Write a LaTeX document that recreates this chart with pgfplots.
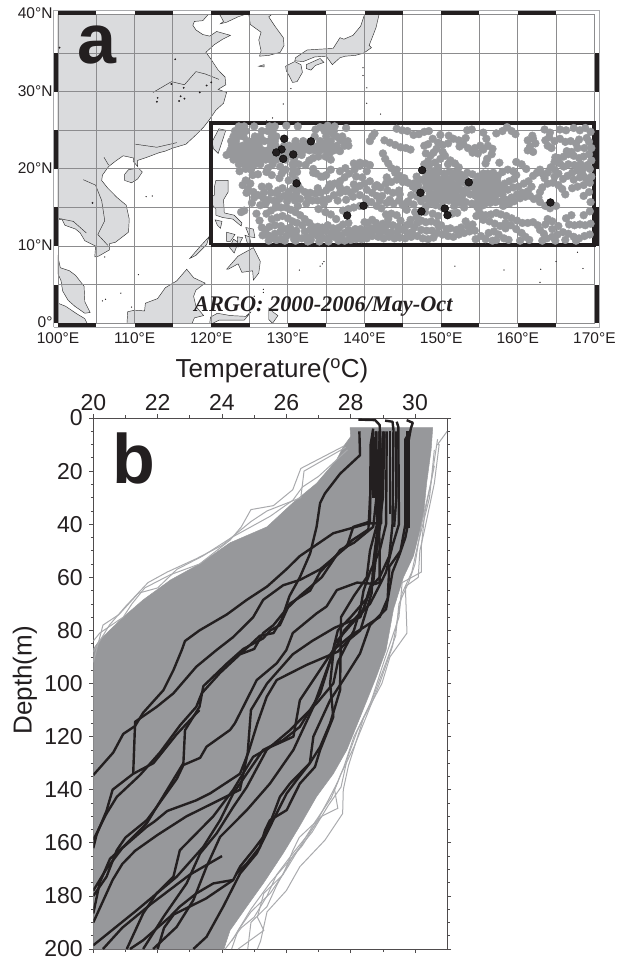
\documentclass[border=0pt]{standalone}
\usepackage{pgfplots}
\pgfplotsset{compat=1.18}
\usepackage{fontspec}
\setmainfont{Liberation Sans}
\newfontfamily\argofont{Liberation Serif}
\definecolor{land}{HTML}{DADBDD}
\definecolor{coast}{HTML}{303030}
\definecolor{gridc}{HTML}{8C8C8E}
\definecolor{dots}{HTML}{97989B}
\definecolor{ink}{HTML}{231F20}
\definecolor{thing}{HTML}{A9AAAD}
\pgfplotsset{
  landp/.style={fill=land,draw=coast,line width=0.45pt},
  prof/.style={ink,line width=2.4pt,line join=round},
  thinp/.style={thing,line width=1pt},
}
\begin{document}
\begin{tikzpicture}[x=1pt,y=1pt]
\path[use as bounding box] (0,0) rectangle (626,958);
\begin{axis}[
  at={(58pt,634.7pt)},anchor=south west,scale only axis,
  width=536.4pt,height=308.8pt,
  xmin=100,xmax=170,ymin=0,ymax=40,clip=false,
  axis line style={draw=none},
  xtick={100,110,120,130,140,150,160,170},
  xticklabels={100°E,110°E,120°E,130°E,140°E,150°E,160°E,170°E},
  ytick={0,10,20,30,40},
  yticklabels={0°,10°N,20°N,30°N,40°N},
  tick style={draw=none},
  tick label style={font=\fontsize{15.5}{16}\selectfont,text=ink},
  xticklabel style={yshift=-6pt},
  yticklabel style={xshift=-2pt,yshift=1pt},
  unbounded coords=jump,
]
% land
\addplot[landp] coordinates {(100,40)(119.6,40)(118.9,39.2)(117.8,39.1)(117.6,38.6)(118.0,38.0)(118.9,37.4)(119.8,37.2)(120.7,37.8)(122.5,37.3)(121.5,36.8)(120.4,36.1)(119.3,35.1)(119.9,34.3)(120.9,32.8)(121.8,31.9)(121.9,30.9)(120.9,30.3)(122,29.9)(121.6,28.5)(120.6,27.6)(119.7,26.3)(119,25.4)(118,24.4)(116.7,23.2)(115,22.7)(114,22.3)(113.2,22.1)(111.6,21.5)(110.4,21.1)(110.4,20.3)(109.8,21)(109.9,21.4)(108.5,21.7)(107.5,21)(106.6,20.3)(105.8,19.2)(105.7,18.5)(106.5,17.5)(107.7,16.3)(108.9,15.3)(109.3,13.5)(109.2,11.8)(107.5,10.5)(106.7,10.3)(106.7,9.5)(105.3,8.7)(104.8,8.6)(104.9,10)(103.5,10.7)(102.9,11.7)(102.3,12.2)(100.9,12.7)(100.5,13.5)(100,13.4)} --cycle;
\addplot[landp] coordinates {(100,8.6)(100.3,7.2)(101.5,6.8)(102.3,6.2)(103.4,4.8)(103.5,2.8)(104.2,1.4)(103.5,1.3)(102.2,2.2)(101.3,3)(100.6,4.2)(100.4,5.5)(100,6.4)} --cycle;
\addplot[landp] coordinates {(100,2.6)(101,2.2)(102.5,1.2)(103.5,0.6)(103.8,0)(100,0)} --cycle;
\addplot[landp] coordinates {(121.1,40)(121.6,39.1)(121.2,38.8)(122,39)(123.5,39.7)(124.4,40)} --cycle;
\addplot[landp] coordinates {(124.9,40)(125.1,38.7)(126.5,37.7)(126.2,36.7)(126.5,35.3)(126.3,34.6)(127.5,34.7)(129,35.1)(129.5,36)(129.4,37)(128.3,38.5)(127.5,39.7)(127.9,40)} --cycle;
\addplot[landp] coordinates {(108.7,19.3)(109.2,19.9)(110.5,20.1)(111,19.6)(110.4,18.7)(109.6,18.2)(108.7,18.5)} --cycle;
\addplot[landp] coordinates {(121,25.2)(121.9,25)(121.4,23.5)(120.9,22)(120.3,22.6)(120.1,23.5)} --cycle;
\addplot[landp] coordinates {(120.6,18.5)(122.2,18.5)(122.2,17)(121.6,16)(121.7,14.3)(123,14)(124,13)(123.9,12.6)(122.8,13.5)(121.5,13.7)(120.6,14)(120.6,14.8)(120,15.5)(119.9,16.3)(120.4,16.6)(120.4,17.6)} --cycle;
\addplot[landp] coordinates {(122,7)(123.5,8.7)(125.5,9.8)(126.4,8)(126.2,6.5)(125.5,5.6)(125.4,6.8)(124,6.6)(123.5,7.7)(122.2,7)} --cycle;
\addplot[landp] coordinates {(117.2,8.4)(118.5,9.9)(119.7,11.2)(119.4,10.2)(118,8.8)} --cycle;
\addplot[landp] coordinates {(124.5,12.4)(125.5,12.2)(125.7,11.1)(125,11.2)} --cycle;
\addplot[landp] coordinates {(124.4,11.4)(125,11.2)(125.2,10.2)(124.8,10.1)} --cycle;
\addplot[landp] coordinates {(122,11.8)(123.1,11.5)(122.5,10.6)(122,10.6)} --cycle;
\addplot[landp] coordinates {(122.9,10.9)(123.5,10.5)(123,9.1)(122.4,9.8)} --cycle;
\addplot[landp] coordinates {(123.4,11.2)(124.1,11.1)(123.5,9.9)} --cycle;
\addplot[landp] coordinates {(120.5,13.4)(121.4,13.2)(121.2,12.3)(120.8,12.7)} --cycle;
\addplot[landp] coordinates {(109,0)(109.1,1.5)(110,1.7)(111.3,1.6)(111.4,2.6)(113,3.2)(114,4.6)(115.5,5.5)(116.8,7)(117.7,5.9)(119.2,5.2)(118,4.3)(117.7,3.5)(118,2.2)(119,1)(117.8,0.7)(117.5,0)} --cycle;
\addplot[landp] coordinates {(119.8,0)(119.9,0.8)(120.8,1.3)(122.5,1)(124.5,0.9)(125.2,1.5)(124.3,0.4)(121,0.4)(120.2,0)} --cycle;
\addplot[landp] coordinates {(127.5,2)(128,1.5)(128.7,1)(128,0)(127.5,0.5)} --cycle;
\addplot[landp] coordinates {(129.7,33.3)(130.9,33.9)(131.7,33.5)(131.9,32.5)(131.2,31.3)(130.6,31.2)(130.2,32)(129.8,32.7)} --cycle;
\addplot[landp] coordinates {(132.4,33.5)(134.2,34.3)(134.7,33.8)(133.6,33.4)(133,32.8)(132.4,33)} --cycle;
\addplot[landp] coordinates {(130.9,34)(131,34.4)(132.5,35.4)(134,35.5)(135.9,35.6)(136.8,37)(137.3,36.8)(138.5,37.3)(139.5,38.5)(140,40)(141.9,40)(141.5,38.3)(141,37)(140.6,36)(140.9,35.7)(139.9,35)(138.8,34.7)(137.5,34.6)(136.8,34.4)(135.8,33.5)(135,34.6)(133.5,34.5)(132,33.9)} --cycle;
\addplot[landp] coordinates {(126.2,33.3)(126.9,33.5)(126.9,33.2)} --cycle;
% rivers and lakes
\addplot[coast,line width=0.45pt] coordinates {(121,31.6)(119.2,32.3)(118,32.6)(116.5,30.9)(114.8,31.3)(112.4,29.9)(nan,nan)(103.3,18.6)(104.9,17.9)(105.7,15.9)(106.1,13.3)(105.2,11.5)(106.5,10.1)(nan,nan)(110.1,23.2)(112.9,22.8)(115.5,23.4)(nan,nan)(106,21.5)(106.6,20.5)(nan,nan)(100,13.6)(102,13.2)(103.7,11.7)};
\addplot[only marks,mark=*,mark size=0.7pt,ink] coordinates {(114.8,31)(116,29.4)(116.5,29.1)(116.4,30.5)(115.8,28.8)(113,29.2)(112.9,28.7)(120,31.2)(119.4,30.8)(118.5,29.9)(115.3,34.2)(104.5,15.6)(100.2,35.7)};
\addplot[only marks,mark=*,mark size=0.35pt,ink] coordinates {(139.8,33.1)(139.8,32.1)(140.3,30.5)(140.3,28.5)(142.1,27.1)(141.3,24.8)(131.2,25.9)(128,26.6)(127.2,26.2)(129.4,28.4)(130.4,30.4)(123.9,24.4)(111.5,16.4)(112.3,16.5)(106.1,8.6)(108.2,3.9)(106.2,3.1)(105.8,2.9)(109.6,2.1)(110.5,6.3)(134.2,7.4)(134.5,7.7)(134.7,8)(151.8,7.4)(158.2,6.9)(162.9,5.3)(145.8,15.2)(145.7,15.1)(144.8,13.4)(168.5,7.1)(165,8)(163,7)(167.8,9.2)(126.8,4.4)(126.8,4.0)(125.6,3.5)(131.5,6.9)};
% grid
\addplot[gridc,line width=0.9pt] coordinates {(105,0)(105,40)(nan,nan)(110,0)(110,40)(nan,nan)(115,0)(115,40)(nan,nan)(120,0)(120,40)(nan,nan)(125,0)(125,40)(nan,nan)(130,0)(130,40)(nan,nan)(135,0)(135,40)(nan,nan)(140,0)(140,40)(nan,nan)(145,0)(145,40)(nan,nan)(150,0)(150,40)(nan,nan)(155,0)(155,40)(nan,nan)(160,0)(160,40)(nan,nan)(165,0)(165,40)(nan,nan)(100,5)(170,5)(nan,nan)(100,10)(170,10)(nan,nan)(100,15)(170,15)(nan,nan)(100,20)(170,20)(nan,nan)(100,25)(170,25)(nan,nan)(100,30)(170,30)(nan,nan)(100,35)(170,35)};
\addplot[gridc,line width=0.9pt] coordinates {(100,0)(170,0)(170,40)(100,40)(100,0)};
\addplot[thing,line width=0.9pt] coordinates {(99.47,-0.5)(170.6,-0.5)(170.6,40.5)(99.47,40.5)(99.47,-0.5)};
% black frame bars
\addplot[ink,line width=4pt] coordinates {(100,-0.22)(105,-0.22)(nan,nan)(110,-0.22)(115,-0.22)(nan,nan)(120,-0.22)(125,-0.22)(nan,nan)(130,-0.22)(135,-0.22)(nan,nan)(140,-0.22)(145,-0.22)(nan,nan)(150,-0.22)(155,-0.22)(nan,nan)(160,-0.22)(165,-0.22)(nan,nan)(100,40.22)(105,40.22)(nan,nan)(110,40.22)(115,40.22)(nan,nan)(120,40.22)(125,40.22)(nan,nan)(130,40.22)(135,40.22)(nan,nan)(140,40.22)(145,40.22)(nan,nan)(150,40.22)(155,40.22)(nan,nan)(160,40.22)(165,40.22)(nan,nan)(99.74,0)(99.74,5)(nan,nan)(99.74,10)(99.74,15)(nan,nan)(99.74,20)(99.74,25)(nan,nan)(99.74,30)(99.74,35)(nan,nan)(170.33,0)(170.33,5)(nan,nan)(170.33,10)(170.33,15)(nan,nan)(170.33,20)(170.33,25)(nan,nan)(170.33,30)(170.33,35)};
% ARGO floats, grey
\addplot[only marks,mark=*,mark size=3.9pt,dots,mark options={draw=none,fill=dots}] coordinates {
(123.6,25.5)(124.3,25.5)(125.6,25.5)(127.6,25.5)(128.3,25.5)(129.8,25.6)(131.3,25.5)(134.2,25.4)(135.2,25.6)(136.1,25.5)(137.6,25.3)
(123.1,24.9)(123.8,24.9)(124.5,24.9)(126.6,24.9)(127.4,24.9)(128,24.9)(134.8,24.9)(135.5,24.9)(136,24.9)
(122.9,24.2)(123.5,24.2)(124.2,24.2)(125.7,24.2)(126.4,24.2)(127.9,24.2)(128.5,24.2)(133.5,24.2)(135,24.2)(136.3,24.2)(137.1,24.2)
(122.6,23.6)(123.2,23.6)(124.7,23.6)(125.4,23.6)(126.1,23.6)(126.9,23.6)(127.6,23.6)(128.3,23.6)(131,23.6)(132,23.6)(134.2,23.6)(135.6,23.6)(137.2,23.6)(137.8,23.6)
(122.7,23)(123.4,23)(124.1,23)(124.8,23)(125.5,23)(126.2,23)(127.8,23)(128.4,23)(129.5,23)(130.2,23)(130.9,23)(131.7,23)(132.4,23)(133.2,23)(134,23)(134.8,23)(135.6,23)(136.4,23)(137.9,23)
(122.5,22.4)(123.2,22.4)(123.9,22.4)(124.6,22.4)(125.3,22.4)(126,22.4)(126.7,22.4)(127.4,22.4)(128.1,22.4)(129.9,22.4)(130.6,22.4)(131.3,22.4)(132,22.4)(132.8,22.4)(133.5,22.4)(134.2,22.4)(135,22.4)(136,22.4)(136.7,22.4)
(122,21.8)(122.7,21.8)(123.4,21.8)(124.1,21.8)(124.8,21.8)(125.5,21.8)(126.2,21.8)(126.9,21.8)(127.6,21.8)(128.3,21.8)(129,21.8)(130,21.8)(131.1,21.8)(131.8,21.8)
(122.9,21.2)(123.6,21.2)(124.3,21.2)(125,21.2)(125.7,21.2)(126.4,21.2)(127.1,21.2)(127.8,21.2)(128.5,21.2)(129.7,21.2)(130.8,21.2)
(123.6,20.6)(124.3,20.6)(125,20.6)(125.7,20.6)(126.4,20.6)(128,20.6)(130.6,20.6)(131.4,20.6)
(124.5,20)(125.2,19.9)(130.7,20)(131.2,19.6)(133.3,20)(133.7,19.4)(127.2,19.6)(127.9,19.2)(129.2,19.4)(128.9,18.8)(130.6,19.3)
(131,18.6)(131.3,17.9)(131.6,17.4)(132.2,17)(132.9,16.9)(133.6,16.8)(134.3,16.9)(135,17.2)(135.6,17.6)(136.1,18.1)(136.8,18.4)(137.4,18.9)(138,19.4)(138.7,19.9)(139.4,20.4)(140.1,20.7)(140.7,20.5)(137.5,20.1)(138.6,20.7)(136.8,19.7)(135.6,19.9)(135,19.2)(134.3,19)
(124.1,17.9)(124.8,17.4)(125.5,17)(126.1,16.6)(126.8,16.2)(127.5,16)(128.2,15.9)(128.9,16.1)(129.5,16.5)(130.1,17)(130.7,17.5)(124.6,16.9)(125.6,16.3)(127.1,15.5)(128.5,15.4)(129.9,15.8)(130.9,15.9)(131.3,15.2)(126.6,17.7)(127.5,17.7)(128.7,17.2)
(133.2,15.9)(133.9,15.9)(134.6,16)(135.3,16.1)(136,16.6)(136.8,16.9)(137.5,17.1)(138.2,16.9)(138.8,17.4)(139.4,17.8)(140,18.1)(140.7,18.4)(141.4,17.7)(142.1,17.6)(142.8,18.1)(143.5,18.3)(144.2,18.6)(145,18.3)(145.7,18.2)(146.3,17.7)(141,16.9)(141.6,16.5)(142.3,16.5)(143,17.2)(143.7,16.9)(144.5,17.2)(135.3,17.6)(136.5,15.9)(139.4,16.6)(140.2,16.1)(142.9,15.6)(143.8,15.5)(145,15.3)(144.5,15.9)
(137.2,14.6)(137.9,14.8)(138.6,15)(139.4,15.2)(140.2,15.5)(140.9,15.7)(141.6,15.2)(142.2,14.9)
(127.2,14.2)(127.8,14.6)(128.4,15)(129.1,15)(129.8,15)(130.4,14.7)(131,14.4)(131.6,14)(132.2,13.5)(132.8,13)(133.2,12.5)(127.9,13.5)(128.6,13.7)(129.3,13.9)(130,13.6)(130.6,13.2)(131.2,13)(131.9,12.7)(125.9,14.2)(126.3,13.3)(128.3,12.7)(129.1,12.6)(129.8,12.2)(131.1,12)
(127.4,11.4)(127.9,11)(128.5,10.8)(129.1,10.9)(129.8,11.3)(130.4,11.6)(131.1,11.3)(131.8,11)(132.5,11.2)(133.2,11.5)(133.9,11.3)(134.6,11)(135.3,11)(136,11.2)(136.7,11.4)(137.4,11.7)(138.1,11.9)(138.8,12.2)(139.5,12.2)(140.2,12.1)(140.9,12.3)(141.6,12.4)(142.3,12.5)(143,12.8)(143.7,12.7)(144.4,12.5)(145,12.1)(145.6,11.7)(146.1,11.2)(145.3,11)(144.6,11.1)(143.9,11)(143.2,11.2)(142.5,11)(141.8,11.2)(141,11.3)(140.3,11)(139.6,10.9)(138.9,10.9)(138.2,10.8)(137.4,10.7)(136.6,10.7)(135.9,12.3)(135.2,12.7)(137.2,12.8)(137.9,13)(134.5,12.4)(133.9,12.5)(129.6,10.7)(131,10.7)(132.6,10.6)(134.1,10.6)
(142.4,12.9)(143.1,13.5)(141,13.4)(140,13.1)(146.8,13.8)(147.4,13.3)(148,13.1)(148.7,13.2)(149.4,13)(150,12.7)(147.4,12.1)(148.1,12)(148.8,12)(149.5,11.7)(150.2,11.5)(150.9,11.3)(151.6,11.2)(152.3,11.5)(153,11.7)(153.7,11.9)(154.4,12)(146.9,11.3)(147.6,11)(148.3,10.9)(149,11.1)(152,12.1)(151.2,12.3)
(142.6,23.7)(143.3,23.4)(144,23.1)(144.7,22.8)(145.4,22.7)(146,22.5)(140.7,23.6)(141,24.2)(141.3,24.6)(144.2,25.2)(144.9,25)(145.6,24.9)(146.4,24.4)(147.1,24.5)(147.8,24.8)(148.4,24.9)(142.4,22)(142.7,21.3)(143.1,20.7)(143.5,20.1)(144,19.5)(144.6,19.1)(145.2,18.8)
(148,22)(148.6,21.7)(148.3,21)(147.8,20.6)(148.4,20.4)(149.2,20.8)(149.9,21.3)(150.5,21.7)(151.2,21.1)(151.8,20.7)(152.3,20.2)(148.9,23.9)(149.6,23.4)(150.2,23.1)(150.9,23.3)(151.6,23.9)(152.3,23.7)(152.9,23.2)(153.5,22.7)(154.1,22.1)(154.8,22)(155.5,22.5)(156.1,23)(156.7,22.6)(156.6,21.9)(156,21.3)(155.8,20.7)(150.2,22.2)(149.4,22.6)(153.4,25)(154,25.1)(155.5,24.7)(158,24.9)(158.6,25.4)(159.2,24.9)(159.7,24.5)(157.6,20.8)
(148,18.9)(148.7,19.1)(149.4,19)(150.1,18.6)(150.8,18.7)(151.5,18.9)(152.2,18.8)(152.9,18.3)(148,18.2)(148.7,18.3)(149.4,18.3)(150.1,17.9)(150.8,18)(151.5,18.1)(152.2,18)(148,17.5)(148.7,17.6)(149.4,17.6)(150.1,17.2)(150.8,17.3)(151.5,17.4)(152.2,17.3)(148.5,16.8)(149.2,16.8)(149.9,16.6)(150.6,16.6)(151.3,16.7)(152,16.6)(152.7,16.4)(148.9,16.1)(149.6,16)(150.3,15.9)(151,15.9)(151.7,15.9)(148.5,15.5)(149.3,15.3)(150,15.1)(151.7,15.2)(152.4,15.6)(153.2,15.7)(154,15.5)(154.7,15.1)(147.4,15.8)(147.1,18.6)(146.4,18.1)(146.7,17.4)(146.1,16.6)(145.7,15.8)(148,15.1)(147.9,14.4)
(153.4,19.5)(154.1,19.3)(154.8,19)(155.4,18.7)(156.1,18.7)(156.7,18.9)(157.4,19.1)(158,19.6)(158.7,19.9)(159.4,19.7)(159.8,19.2)(159.5,18.7)(158.9,18.4)(158.3,18.1)(157.6,17.9)(156.9,18)(156.2,17.8)(155.5,17.7)(154.8,17.8)(154.1,17.7)(153.4,17.5)(153.1,16.9)(153.8,16.7)(154.5,16.5)(155.2,16.4)(155.9,16.5)(156.6,16.6)(157.3,16.8)(158,16.7)(158.7,17.3)(159.4,17.6)(160.1,17.7)(160.8,18.1)(161.4,18.4)(161.8,17.7)(161.3,17.1)(160.6,16.9)(159.9,16.7)(159.2,16.3)(158.5,16)(157.8,15.8)(157.1,15.7)(156.4,15.6)(155.7,15.5)(162,19.1)(162.5,19.5)(161.1,20)(160.5,20.6)(159.8,20.9)(155.5,15.3)(154.9,14.8)
(162.9,15.7)(162.7,16.3)(162.9,17)(163.2,17.6)(163.9,18.1)(164.6,18.2)(165.3,17.9)(165.8,17.4)(166.2,16.7)(163.6,15.2)(164.2,14.9)(165,15.2)(163.5,18.8)(163.9,19.5)(164.3,20.2)(164.8,20.9)(165.3,21.4)(166,21.6)(166.6,21.9)(167.3,21.7)(168,21.4)(168.6,21.6)(169.3,21.9)(169.6,21.1)(169.1,20.5)(168.5,20)(167.8,19.8)(167.1,19.5)(166.5,19.1)(165.9,18.7)(165.3,19.4)(166,20.3)(166.6,20.6)(167.4,20.5)(168.1,18.9)(168.9,18.8)(169.6,19)(169.4,18.2)(168.6,17.9)(167.8,17.7)(167.1,17.5)(169.3,17)(168.6,16.5)(169.5,15.7)
(161.3,23.7)(162,23.9)(162.3,23.3)(161.6,22.9)(161.3,22.4)(162,22.2)(161.9,24.3)(163.5,25.1)(164.2,24.7)(165.5,25.1)(166.3,25)(167.3,25.3)(168.1,25)(168.8,25.3)(169.5,24.8)
(163.6,23.7)(164.1,24.1)(164.8,23.6)(165.5,23.9)(166.2,23.5)(166.9,23.6)(167.6,23.3)(167.8,22.7)(163.9,23)(164.4,22.7)(169.3,23.5)(169.6,22.7)
(155.1,14.2)(155.8,14)(156.5,14.1)(157.2,14.3)(157.8,14.1)(158.5,13.9)(159.2,13.6)(159.9,13.3)(160.6,13)(161.3,13)(162,13.1)(162.6,12.7)(162.9,12.1)(163.4,11.6)(163.8,11)(158.4,13)(159.1,12.7)(159.8,12.2)(160.5,11.7)(161,11.2)(161.5,10.8)(156.2,11.7)(156.9,11.9)(157.5,11.5)(158.2,11)(158.8,10.8)(155.2,11.3)(155.8,10.9)(154.5,10.9)
(164.5,11.2)(165.2,11.5)(165.9,11.8)(166.6,11.6)(167.3,11.2)(168,11)(168.7,11.3)(169.4,11.5)(164.9,10.7)(166.2,10.8)(167.6,10.7)(166.3,13.6)(167,14)(166.7,12.8)(167.4,12.7)(168.1,12.8)(168.8,12.7)(169.5,12.9)(169.4,14.5)(168.6,14)(165.3,12.6)(164.5,13.2)(163.9,13.5)
(153,15)(152.1,14.3)(151.4,14.2)(149.6,13.9)(148.9,14.2)(146.9,13)(146,13.4)(145.5,12.7)(146.6,14.4)(145.5,14.7)(154.1,12.8)(153.2,13.2)(134.9,14.4)(135.6,14.1)(136.3,13.5)(134,14.8)(123.9,14.4)(124.3,14.6)
(133.6,25.1)(134.6,25.3)(135.9,24.5)(136.8,23.8)(137.4,23)(135,23.4)(133.7,22.7)(135.5,22.1)(136.8,22.3)(133.3,19.5)(134.6,19)(135.5,18)(136.8,17.6)(137.7,17.3)(138.9,19)(139.4,20.8)(140.3,19.7)(138.5,16.4)(140.3,17.3)(141.6,17.9)(142.9,18.9)(144.2,19.9)(142,15.9)(143.3,16)(144.6,16.7)(145.5,15.6)(139.7,18.9)(138.6,18)(137.6,16)(133.9,17.5)(132.6,16.3)(134.7,15.5)
(126.6,12.4)(127.1,12.1)(127.6,12.5)(126.7,11.4)(127.5,10.7)(128.3,11.6)(129,11.8)(130.3,12.4)(130.8,10.9)(132.2,11.9)(132.9,12.1)(133.5,11.9)(134.3,11.8)(135,11.9)(135.7,11.7)(136.4,12)(137,11)(138.1,11.2)(138.9,11.5)(139.7,11.6)(140.5,11.8)(141.2,12)(142,11.7)(142.8,11.9)(143.5,11.8)(144.3,11.8)(146.5,12.4)(145.9,12.9)(146.2,11.8)(133,10.8)(135.3,10.6)(137.9,12.1)(136.7,12.4)(140.4,13)(141.5,13)(142.8,14.1)(143.5,14.2)(144.2,14)(144.7,13.3)
(128.6,16.8)(129.3,17.5)(130,16.3)(130.5,16.4)(127.8,16.9)(126.9,17)(125.1,18.1)(124.5,18.5)(125.3,15.6)(126.4,15.3)(130.1,18.5)(131.1,16.8)(131.6,16.1)(132.4,15.5)(126.1,19.3)(125.4,19.2)(123.7,19.7)(127.4,20.1)(129,20.3)(129.7,19.9)(132.3,20.5)(132.8,21.1)(133.3,21.4)(134,21.6)(134.9,21.6)(135.6,21.2)
(146.8,19)(147.6,18.6)(147,17.9)(147.4,17.2)(146.9,16.4)(146.4,15.4)(147.4,16.4)(148.3,19.5)(149,19.7)(149.7,19.6)(150.4,19.4)(151.1,19.6)(151.8,19.5)(152.5,19.3)(153,19)(153.2,18.6)(149,18.7)(150.5,18.3)(149.7,16.9)(148.1,16.1)(150.6,16.1)(152.6,17.3)(152.9,17)(152.5,16)(153.6,18.2)(154.4,18.3)(155.1,18.3)(155.8,18.2)(156.6,18.4)(157.3,18.5)(158,17.4)(157.3,17.4)(156.6,17.3)(155.9,17.2)(155.2,17)(154.5,17.1)(156.8,19.5)(156.1,19.4)(155.5,19.4)(154.8,15.8)(155.5,16)(156.2,16)(157,16.3)(158.1,15.2)(158.9,15.5)(159.5,15.8)(160.3,16.2)(161,16.4)(161.6,16.5)(162.1,16.1)
(164.9,21.5)(165.5,20.7)(166.4,22.3)(167,22.2)(164.8,19.9)(164.8,19)(167.3,18.6)(168.5,19.2)(169.4,20)(168.2,20.6)(168.7,22.7)(168,23.8)(169,24)(163.3,19.3)(162.9,19.9)
(149.9,24.4)(151,24.3)(152.4,22.9)(153.2,24)(154.4,22.7)(155.1,23)(155.9,23.9)(149,22.1)(147.8,23)(148.3,23.2)(150.9,20.6)(149.6,20.2)(157.2,24.6)
(154.6,13.9)(155.5,13.4)(156.3,13.2)(157,12.9)(157.7,12.6)(158.4,12.3)(153.5,12.6)(152.6,12.4)(150.7,12.2)(149.7,12.5)(163.6,12.8)(164.5,12.2)(163.2,10.7)(160.3,10.7)(157.2,10.8)(156.7,10.7)
};
% ARGO floats, selected
\addplot[only marks,mark=*,mark size=3.9pt,mark options={draw=none,fill=ink}] coordinates {(129.52,23.91)(133,23.57)(129.17,22.52)(128.48,22.13)(129.39,21.3)(130.7,21.87)(131.13,18.13)(137.74,13.96)(139.87,15.22)(147.52,19.83)(147.3,16.91)(147.43,14.48)(150.48,14.87)(150.83,14)(153.61,18.26)(164.26,15.65)};
% box
\addplot[ink,line width=4pt] coordinates {(120,10.1)(170,10.1)(170,26)(120,26)(120,10.1)};
\node[anchor=base,inner sep=0pt,text=ink] at (axis cs:105.1,33.7) {\fontsize{70}{70}\selectfont\bfseries a};
\node[anchor=base west,inner sep=0pt,text=ink] at (axis cs:117.75,1.5) {\argofont\fontsize{22.3}{22}\selectfont\bfseries\itshape ARGO: 2000-2006/May-Oct};
\end{axis}
\begin{axis}[
  at={(93.3pt,9pt)},anchor=south west,scale only axis,
  width=353.9pt,height=531pt,
  xmin=20,xmax=31,ymin=0,ymax=200,y dir=reverse,
  axis line style={draw=ink!80,line width=0.9pt},
  xtick={20,22,24,26,28,30},
  minor x tick num=1,
  ytick={0,20,...,200},
  minor y tick num=3,
  tick align=outside,
  major tick length=4pt,minor tick length=2.5pt,
  tick style={draw=ink!80,line width=0.7pt},
  xtick pos=both,ytick pos=both,
  xticklabel pos=top,yticklabel pos=left,
  tick label style={font=\fontsize{23}{24}\selectfont,text=ink},
  yticklabel style={xshift=-3pt,inner ysep=0pt},
  /pgf/number format/assume math mode=true,
  xlabel={Temperature(\textsuperscript{o}C)},
  ylabel={Depth(m)},
  label style={font=\fontsize{26}{27}\selectfont,text=ink},
  xlabel style={at={(axis description cs:0.505,1.0885)},anchor=center},
  ylabel style={at={(axis description cs:-0.193,0.506)},anchor=center},
  unbounded coords=jump,
]
% envelope of all profiles
\addplot[fill=dots,draw=dots,line width=0.5pt] coordinates {(27.98,3.6)(28.0,7)(27.77,10.8)(27.56,15.8)(26.94,24.6)(26.2,32)(25.4,41)(24.25,47)(23.3,55)(22.4,61)(21.55,68.5)(20.93,75)(20.2,83.6)(20,87)(20,200)(24.06,200)(24.25,193)(24.77,184)(25.3,175)(25.9,164)(26.4,154)(26.94,142.6)(27.46,134)(27.88,125)(28.3,112.5)(28.8,97.4)(29.1,87.4)(29.33,72)(29.64,60)(29.95,52)(30.26,37)(30.36,24.6)(30.5,12)(30.55,3.6)} --cycle;
% outlying grey profiles
\addplot[thinp] coordinates {(31,5)(30.7,10)(30.75,10)(30.6,24.6)(30.3,42)(30.15,50)(30.1,60)(29.7,63.5)(29.75,81)(29.22,90)(28.97,100)(28.4,113)(27.93,131)(27.77,140)(27.75,149)(27.2,159)(26.42,169)(26,178)(25.4,186)(25.2,197)(25.1,200)};
\addplot[thinp] coordinates {(30.7,8)(30.5,24)(30.2,40)(30,55)(29.8,62)(29.5,70)(29.4,82)(29.1,92)(28.7,105)(28.2,118)(27.9,128)(27.7,139)(27.3,146)(26.8,156)(26.2,165)(25.7,176)(25.4,184)(24.9,190)(24.8,200)};
\addplot[thinp] coordinates {(30.6,12)(30.45,30)(30.1,47)(29.9,58)(29.6,66)(29.45,76)(29.3,86)(28.9,100)(28.5,112)(28.1,124)(27.7,134)(27.4,143)(26.9,152)(26.5,160)(26,170)(25.5,179)(24.9,186)(24.5,193)(24.3,200)};
\addplot[thinp] coordinates {(30.6,18)(30.3,36)(30.2,48)(30.2,58)(29.6,62)(29.5,75)(29,93)(28.6,108)(28.1,120)(27.8,131)(27.5,140)(27.6,147)(27.1,150)(26.4,158)(26.2,163)(25.9,172)(25.3,179)(25.1,188)(25.3,193)(24.5,200)};
\addplot[thinp] coordinates {(24.1,200)(24.6,192)(25,188)(25.4,180)(25.7,172)(26.2,164)(26.6,158)(27.1,150)};
\addplot[thinp] coordinates {(24.3,197)(24.9,185)(25.5,175)(26,168)(26.5,161)(26.9,153)(27.3,144)(27.6,137)};
\addplot[thinp] coordinates {(27.8,10.5)(26.45,19)(26.2,27)(25.6,33)(24.9,34.5)(24.6,41)(24.25,46)(23.3,55)(22.4,59)(21.6,64)(21.2,70)(20.93,75)(20.2,81)(20,84)};
\addplot[thinp] coordinates {(27.85,11)(26.55,20)(26.45,30)(25.4,35)(24.9,39)(24.5,43)(24,48)(23.2,53)(22.3,58)(21.7,62)(21,71)(20.5,78)(20,88)};
\addplot[thinp] coordinates {(27.9,12)(27,22)(26.5,26)(26.2,31)(25.5,37)(24.3,45)(23.4,52)(22.6,57)(22,64)(21.4,66)(20.8,74)(20.3,78)(20,92)};
% selected profiles
\addplot[prof] coordinates {(28.27,5)(28.29,14)(27.67,21)(27.2,28.4)(27.05,32)(26.94,41)(26.74,51)(26.42,60)(26.1,67)(25.85,76)(25.6,81)(25.18,82)(24.56,89)};
\addplot[prof] coordinates {(28.24,0.6)(28.76,0.8)(28.9,2.6)(28.91,5.8)(28.95,20)(28.95,39.7)(28.55,39.7)(27.46,43.4)(26.42,52)(26,57)(25.4,63.5)(24.77,68.5)(24.15,74)(23.3,80)(22.85,84)(22.75,87.4)(22.49,95)(22.18,102.5)(21.55,111)(21.3,116)(20.93,119)(20.62,126)(20,134.5)};
\addplot[prof] coordinates {(28.7,4)(28.62,10)(28.6,39)(28.08,41)(27.88,48.5)(27.05,57)(26.42,61)(25.9,63)(25.28,68.5)(24.97,75)(24.35,82.5)(23.83,87.4)(23.2,93.7)(22.49,103.7)(21.97,108.8)(21.3,114.4)(21.24,134)(20.6,140)(20.41,148)(20.1,157)(20,162)};
\addplot[prof] coordinates {(21.24,134)(21.87,130)(22.6,119)(23.3,110)};
\addplot[prof] coordinates {(28.7,5)(28.65,20)(28.55,42)(28.05,46)(27.7,50)(27.05,58)(26.74,65)(26.1,70)(25.8,78)(25.5,80)(25.28,83)(24.66,87)(24.15,92.5)(23.42,101)(23.3,108.8)(22.85,117.6)(22.8,130)(21.97,146.5)(21.66,152.7)(20.93,161.5)(20.52,166)(20.2,175)(20,186.6)};
\addplot[prof] coordinates {(28.78,5)(28.8,30)(28.7,41)(28.1,47)(27.67,49.7)(27.1,60)(26.42,67)(26,72)(25.6,78)(25.28,81)(25,87)(24.56,89)(23.94,96)(23.37,103.7)(23.2,108.8)(22.7,115.7)(22.07,126)(21.45,134.5)(20.73,142.7)(20.41,149)(20.2,154)(20,159)};
\addplot[prof] coordinates {(28.9,5)(28.85,35)(28.9,48)(28.9,62)(28.76,62.5)(28.2,62)(27.57,64.8)(27.25,71)(26.94,73.6)(26.2,81)(26,87.4)(25.7,92.4)(25.08,98.7)(24.66,108.8)(24.4,115)(24.25,117.5)(23.52,123.8)(23.32,128)(22.8,130.7)(22.6,135.8)(21.97,146.5)(21.66,151.5)(21,158)(20.73,162.8)(20.41,172.8)(20,180)};
\addplot[prof] coordinates {(29,5)(28.95,30)(28.7,55)(28.65,66)(28.3,80)(27.9,84)(27.6,88)(26.63,93)(25.7,98.7)(25.39,105)(25.1,115)(24.82,126)(24.56,134)(23.63,141.4)(23.2,144)(22.3,148)(21.9,152)(21.66,154)(20.9,162)(20.4,170)(20,178)};
\addplot[prof] coordinates {(29.05,5)(29,30)(28.8,50)(28.7,62)(28.3,75)(27.5,79)(26.8,84)(26.2,89)(25.4,100)(24.9,110)(24.8,126)(24.56,140)(23.9,144)(22.9,150)(22,157)(21.3,163)(20.9,168)(20.6,174)(20,190)};
\addplot[prof] coordinates {(29.74,0.8)(29.93,1.8)(29.87,3.9)(29.78,10)(29.78,40)(29.7,45)(29.5,52)(29.3,58)(29.2,65)(29.1,72)(28.6,78)(28.29,88.7)(27.77,98.7)(27.36,106.3)(26.84,120)(26.73,130)(26.32,136.4)(26.01,141.4)(25.59,151.5)(25.08,164)(24.56,171.6)(24.04,184)(23.52,195.4)(23.11,200)};
\addplot[prof] coordinates {(29.85,5)(29.7,8)(29.7,40)(29.55,50)(29.2,56)(29.15,68)(28.9,75)(28,82)(27.46,87.4)(26.42,106.3)(26.22,120)(25.49,124)(24.97,127.6)(24.35,140)(23.73,150)(22.69,162.8)(22.49,172.8)(21.97,179)(21.55,186.6)(21.04,200)};
\addplot[prof] coordinates {(29.43,1.4)(29.48,3.3)(29.5,40)(29.3,48)(29.1,58)(28.9,63)(28.6,70)(28,78)(27.5,85)(27.46,88.7)(27.36,100)(27.46,112.6)(27.05,125)(26.89,131.4)(26.42,137.7)(26.01,147.7)(25.49,151.5)(25.34,155.2)(25.18,161.5)(24.77,167.8)(24.45,171.6)};
\addplot[prof] coordinates {(29.07,1)(29.3,1.4)(29.33,4.5)(29.3,40)(29.2,52)(28.9,60)(28.6,64)(28.4,72)(27.8,80)(27.4,90)(27.05,103.8)(26.42,116.3)(25.9,121.3)(25.28,125)(24.35,141.4)(23.94,151.5)(23.42,161.5)(22.59,172.8)(21.35,185.4)(20,198.6)};
\addplot[prof] coordinates {(29.12,5)(29.1,40)(28.9,50)(28.6,58)(28.4,65)(28.3,72)(28.1,80)(27.6,92)(27.46,100)(26.94,107.5)(26.11,117.6)(25.39,125)(24.77,139)(24.35,146.5)(23.83,156.5)(23.32,164)(22.9,175.3)(22.18,187.9)(21.55,200)};
\addplot[prof] coordinates {(28.9,5)(28.92,40)(28.8,50)(28.7,60)(28.5,68)(28,75)(27.6,80)(27.4,90)(26.84,108.8)(26.22,125)(25.49,137.7)(24.77,147.7)(23.94,157.8)(23.52,169)(23.11,181.6)(22.59,191.7)(21.86,200)};
\addplot[prof] coordinates {(28.8,5)(28.82,40)(28.6,50)(28.5,60)(28.1,67)(27.7,75)(27.67,102.5)(27.36,115)(27.05,123.9)(26.73,130)(26.11,137.7)(25.8,142.7)(25.49,152.7)(25.28,157.8)(24.97,162.8)(24.56,169)(24.35,174)(23.73,175.3)(23.21,179)(22.69,184)(22.38,187.9)(21.55,196.7)(21.14,200)};
\addplot[prof] coordinates {(24.35,174)(23.5,181)(22.5,187)(22.2,192)(22,200)};
\addplot[prof] coordinates {(24,165)(23,172)(21.8,183)(20.9,192)(20.3,200)};
% warm surface columns
\addplot[ink,line width=4pt] coordinates {(29.78,5)(29.78,41.5)};
\addplot[ink,line width=3pt] coordinates {(28.72,7)(28.72,30)};
\addplot[ink,line width=2.4pt] coordinates {(29.42,5)(29.42,30)(29.35,41)};
\addplot[ink,line width=2.4pt] coordinates {(29.22,5)(29.22,36)};
\node[anchor=base,inner sep=0pt,text=ink] at (axis cs:21.26,24.5) {\fontsize{70}{70}\selectfont\bfseries b};
\end{axis}
\end{tikzpicture}
\end{document}
